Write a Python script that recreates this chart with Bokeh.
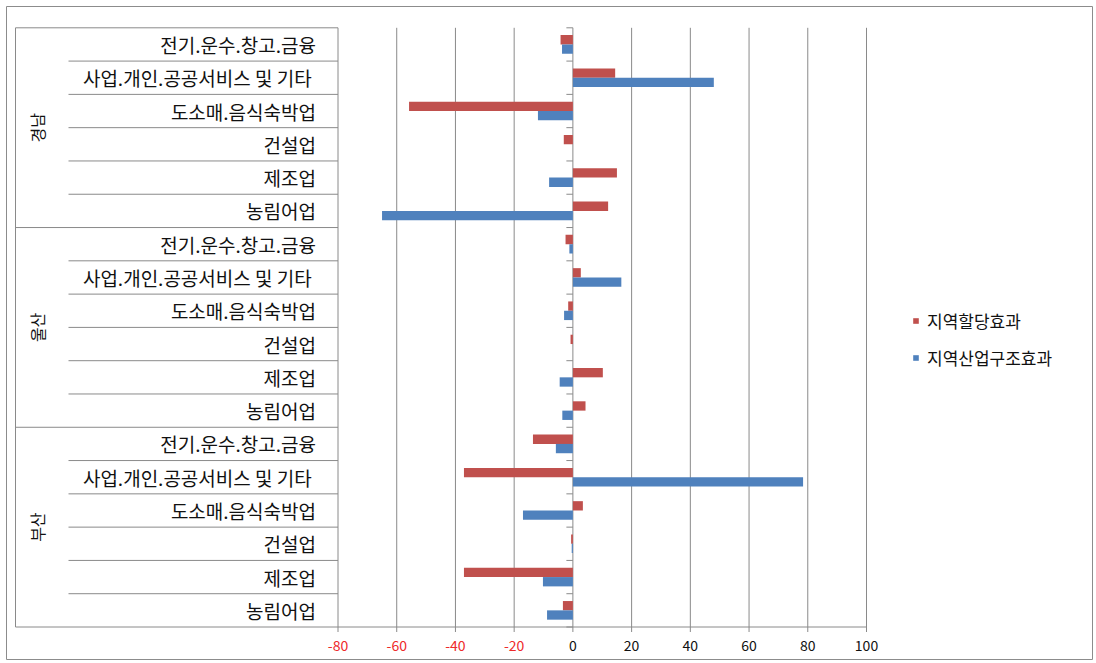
import math
from bokeh.plotting import figure
from bokeh.models import Range1d, Legend, LegendItem
from bokeh.core.properties import value
from bokeh.embed import file_html
from bokeh.resources import INLINE

# ---------------- data (rows listed bottom -> top) ----------------
regions = ["부산", "울산", "경남"]
industries = ["농림어업", "제조업", "건설업", "도소매.음식숙박업",
              "사업.개인.공공서비스  및 기타", "전기.운수.창고.금융"]
series_names = ["지역할당효과", "지역산업구조효과"]

alloc_busan = [-3.4, -37.1, -0.6, 3.4, -37.1, -13.6]
alloc_ulsan = [4.3, 10.2, -0.8, -1.6, 2.7, -2.5]
alloc_gyeongnam = [12.0, 15.0, -3.1, -55.8, 14.4, -4.2]

struct_busan = [-8.8, -10.2, -0.4, -17.0, 78.4, -5.8]
struct_ulsan = [-3.6, -4.5, 0.0, -3.0, 16.5, -1.2]
struct_gyeongnam = [-65.0, -8.1, 0.0, -11.9, 48.0, -3.7]

x_ticks = [-80, -60, -40, -20, 0, 20, 40, 60, 80, 100]

# ---------------- layout (pixels) ----------------
W, H = 1096, 663
PL, PR, PT, PB = 337.5, 866, 27.3, 626.5
XMIN, XMAX = x_ticks[0], x_ticks[-1]
n_rows = len(regions) * len(industries)
xs = (PR - PL) / (XMAX - XMIN)
ys = (PB - PT) / n_rows


def xd(px):
    return XMIN + (px - PL) / xs


def yd(px):
    return (PB - px) / ys


RED = "#C0504D"
BLUE = "#4F81BD"
GRID = "#8A8A8A"
FONT = "Noto Sans CJK KR"

p = figure(width=W, height=H, output_backend="svg", toolbar_location=None,
           title=None, x_range=Range1d(xd(0), xd(W)), y_range=Range1d(yd(H), yd(0)),
           min_border=0, outline_line_color=None)
p.xaxis.visible = False
p.yaxis.visible = False
p.grid.visible = False
p.background_fill_color = "white"

# outer frame
p.quad(left=[xd(6)], right=[xd(1092)], bottom=[yd(659)], top=[yd(6)],
       fill_color=None, line_color="#8C8C8C", line_width=1)

# rows
alloc = alloc_busan + alloc_ulsan + alloc_gyeongnam
struct = struct_busan + struct_ulsan + struct_gyeongnam
row_labels = industries * len(regions)
row_center = [i + 0.5 for i in range(n_rows)]

# vertical value grid lines, extended slightly below as ticks
p.segment(x0=x_ticks, x1=x_ticks, y0=[yd(PB + 5)] * len(x_ticks), y1=[yd(PT)] * len(x_ticks),
          line_color=GRID, line_width=1)

# category boundary lines through the label table
bounds = list(range(n_rows + 1))
left_px = [15 if b % len(industries) == 0 else 68 for b in bounds]
p.segment(x0=[xd(px) for px in left_px], x1=[XMIN] * len(bounds), y0=bounds, y1=bounds,
          line_color=GRID, line_width=1)
# left border of table
p.segment(x0=[xd(15)], x1=[xd(15)], y0=[0], y1=[n_rows], line_color=GRID, line_width=1)
# horizontal value axis line
p.segment(x0=[XMIN], x1=[XMAX], y0=[0], y1=[0], line_color=GRID, line_width=1)
# category tick marks on the zero line
p.segment(x0=[0] * len(bounds), x1=[-6.5 / xs] * len(bounds), y0=bounds, y1=bounds,
          line_color=GRID, line_width=1)

# bars
BH = 0.28
r_alloc = p.hbar(y=[c + BH / 2 for c in row_center], left=0, right=alloc, height=BH,
                 fill_color=RED, line_color=None)
r_struct = p.hbar(y=[c - BH / 2 for c in row_center], left=0, right=struct, height=BH,
                  fill_color=BLUE, line_color=None)

# category labels
p.text(x=[xd(PL - 22)] * n_rows, y=row_center, text=row_labels,
       text_align="right", text_baseline="middle", text_font=value(FONT),
       text_font_size="19px", text_color="#111111")

# group labels (vertical)
group_center = [len(industries) * (i + 0.5) for i in range(len(regions))]
p.text(x=[xd(36)] * len(regions), y=group_center, text=regions, angle=math.pi / 2,
       text_align="center", text_baseline="middle", text_font=value(FONT),
       text_font_size="16px", text_color="#111111")

# value tick labels (negatives in red)
p.text(x=x_ticks, y=[yd(645)] * len(x_ticks), text=[str(t) for t in x_ticks],
       text_color=["#EE2A2A" if t < 0 else "#111111" for t in x_ticks],
       text_align="center", text_baseline="middle", text_font=value(FONT),
       text_font_size="14px")

legend = Legend(items=[LegendItem(label=series_names[0], renderers=[r_alloc]),
                       LegendItem(label=series_names[1], renderers=[r_struct])],
                location=(912, H - 370), orientation="vertical",
                border_line_color=None, background_fill_alpha=0,
                padding=0, margin=0, spacing=12, glyph_width=7, glyph_height=7,
                label_height=22, label_standoff=8,
                label_text_font=FONT, label_text_font_size="17px",
                label_text_color="#111111")
p.add_layout(legend)

open("out.html", "w").write(file_html(p, INLINE))
